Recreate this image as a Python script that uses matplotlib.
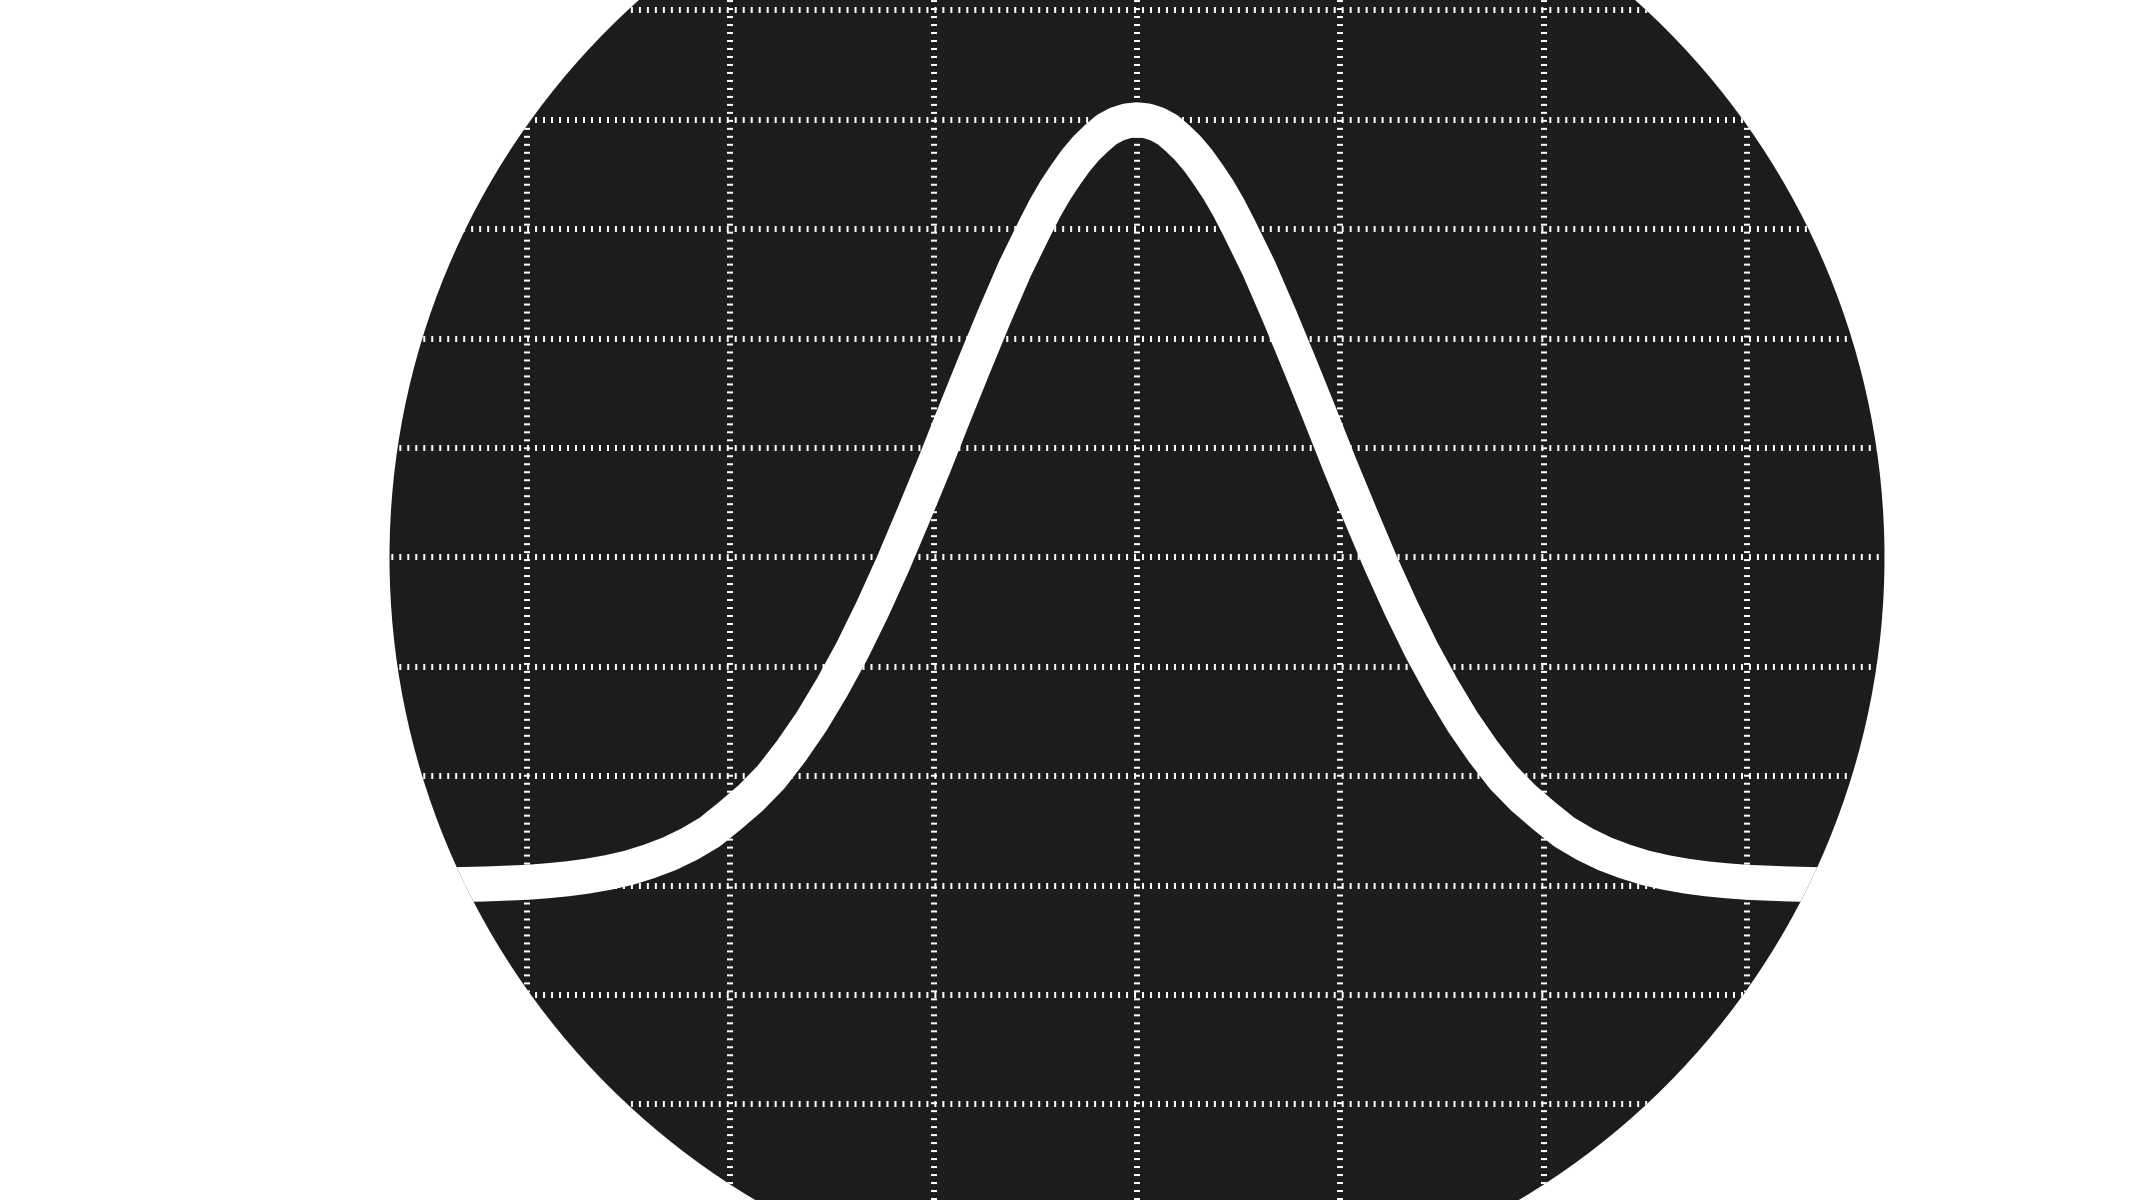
import matplotlib
matplotlib.use("Agg")
import matplotlib.pyplot as plt
from matplotlib.patches import Ellipse

# grid positions (data units)
grid_x = [-3, -2, -1, 0, 1, 2, 3]
grid_y = [-2, -1, 0, 1, 2, 3, 4, 5, 6, 7, 8]

# bell curve (symmetric around 0)
half_x = [0.0, 0.05, 0.1, 0.15, 0.2, 0.25, 0.3, 0.35, 0.4, 0.45, 0.5,
          0.6, 0.7, 0.8, 0.9, 1.0, 1.1, 1.2, 1.3, 1.4, 1.5,
          1.6, 1.7, 1.8, 1.9, 2.0, 2.1, 2.2, 2.3, 2.4, 2.5,
          2.6, 2.7, 2.8, 2.9, 3.0, 3.2, 3.4, 3.6, 3.8]
half_y = [7.00, 6.99, 6.96, 6.91, 6.83, 6.74, 6.63, 6.50, 6.36, 6.20, 6.02,
          5.64, 5.21, 4.76, 4.30, 3.83, 3.38, 2.94, 2.53, 2.15, 1.81,
          1.50, 1.23, 0.99, 0.80, 0.64, 0.49, 0.38, 0.29, 0.22, 0.162,
          0.12, 0.087, 0.062, 0.044, 0.030, 0.015, 0.006, 0.002, 0.0]

curve_x = [-v for v in half_x[:0:-1]] + half_x
curve_y = half_y[:0:-1] + half_y

# layout in pixels (2133 x 1200 at dpi 100)
W, H, DPI = 2133, 1200, 100
PX_X = 203.4      # pixels per x unit
PX_Y = 109.4      # pixels per y unit
X0_PX = 1137.0    # pixel column of x = 0
Y0_PX = 885.6     # pixel row of y = 0 (from top)
R_PX = 747.5      # circle radius in pixels
CIRCLE_CENTER = (0.0, 3.0)

BG = "#1c1b1e"

plt.rcParams["lines.scale_dashes"] = False


def main():
    fig = plt.figure(figsize=(W / DPI, H / DPI), dpi=DPI)
    fig.patch.set_facecolor("white")
    ax = fig.add_axes([0, 0, 1, 1])
    ax.set_xlim(-X0_PX / PX_X, (W - X0_PX) / PX_X)
    ax.set_ylim((Y0_PX - H) / PX_Y, Y0_PX / PX_Y)
    ax.axis("off")

    disc = Ellipse(CIRCLE_CENTER, width=2 * R_PX / PX_X, height=2 * R_PX / PX_Y,
                   facecolor=BG, edgecolor="none", zorder=1)
    ax.add_patch(disc)

    grid_style = dict(color="white", linewidth=4.3, dashes=(1.45, 4.3), zorder=2)
    for gx in grid_x:
        ln = ax.axvline(gx, **grid_style)
        ln.set_clip_path(disc)
    for gy in grid_y:
        ln = ax.axhline(gy, **grid_style)
        ln.set_clip_path(disc)

    (curve,) = ax.plot(curve_x, curve_y, color="white", linewidth=25.2,
                       solid_joinstyle="round", solid_capstyle="butt", zorder=3)
    curve.set_clip_path(disc)

    fig.savefig("out.png", dpi=DPI, facecolor="white")
    plt.close(fig)


if __name__ == "__main__":
    main()
